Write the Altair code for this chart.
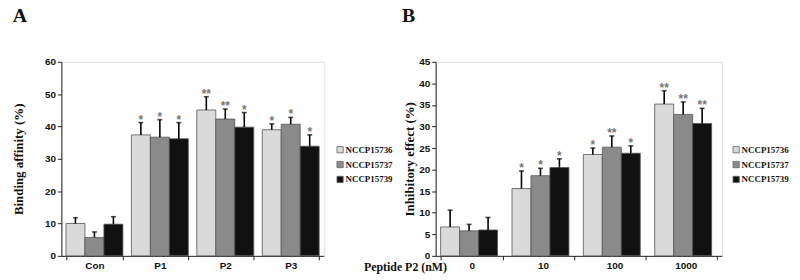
import altair as alt
import pandas as pd

series = ["NCCP15736", "NCCP15737", "NCCP15739"]
fills = ["#dadada", "#8a8a8a", "#111111"]

cats_a = ["Con", "P1", "P2", "P3"]
vals_a = {
    "NCCP15736": [10.0, 37.4, 45.1, 39.0],
    "NCCP15737": [5.7, 36.7, 42.3, 40.7],
    "NCCP15739": [9.8, 36.2, 39.8, 33.9],
}
err_a = {
    "NCCP15736": [1.8, 3.8, 4.1, 1.8],
    "NCCP15737": [1.7, 5.4, 3.1, 2.1],
    "NCCP15739": [2.3, 5.0, 4.5, 3.5],
}
stars_a = {
    "NCCP15736": ["", "*", "**", "*"],
    "NCCP15737": ["", "*", "**", "*"],
    "NCCP15739": ["", "*", "*", "*"],
}

cats_b = ["0", "10", "100", "1000"]
vals_b = {
    "NCCP15736": [6.7, 15.6, 23.5, 35.2],
    "NCCP15737": [5.8, 18.6, 25.2, 32.8],
    "NCCP15739": [6.0, 20.5, 23.8, 30.7],
}
err_b = {
    "NCCP15736": [3.9, 4.1, 1.5, 3.1],
    "NCCP15737": [1.5, 1.7, 2.6, 2.9],
    "NCCP15739": [2.9, 2.0, 1.7, 3.5],
}
stars_b = {
    "NCCP15736": ["", "*", "*", "**"],
    "NCCP15737": ["", "*", "**", "**"],
    "NCCP15739": ["", "*", "*", "**"],
}


def table(cats, vals, errs, stars):
    rows = []
    for s in series:
        for i, c in enumerate(cats):
            v = vals[s][i]
            e = errs[s][i]
            rows.append({"cat": c, "series": s, "value": v, "top": v + e, "star": stars[s][i]})
    return pd.DataFrame(rows)


SERIF = "Liberation Serif"
SANS = "Liberation Sans"


def panel(df, cats, ymax, ystep, ytitle, letter, letter_dx, w, h, xtitle, legx, ytitle_x):
    xaxis_kw = dict(
        labelAngle=0, labelFont=SANS, labelFontWeight="bold", labelFontSize=10,
        labelColor="#111", tickBand="extent", tickSize=4, tickColor="#222",
        domainColor="#222", labelPadding=1,
    )
    if xtitle:
        xaxis_kw.update(title=xtitle, titleFont=SERIF, titleFontSize=12, titleFontWeight="bold",
                        titleX=-31, titleY=11, titleAlign="center", titleBaseline="middle",
                        titleColor="#111")
    else:
        xaxis_kw.update(title=None)
    xenc = alt.X(
        "cat:N", sort=cats,
        scale=alt.Scale(paddingInner=0.13, paddingOuter=0.07),
        axis=alt.Axis(**xaxis_kw),
    )
    xo = alt.XOffset("series:N", sort=series, scale=alt.Scale(paddingInner=0, paddingOuter=0))
    yscale = alt.Scale(domain=[0, ymax], nice=False)
    yaxis = alt.Axis(
        title=ytitle, values=list(range(0, ymax + 1, ystep)), grid=False, labelOverlap=False,
        labelFont=SANS, labelFontWeight="bold", labelFontSize=10, labelColor="#111",
        tickSize=4, tickColor="#222", domainColor="#222", labelPadding=2,
        titleFont=SERIF, titleFontSize=13, titleFontWeight="bold", titleColor="#111",
        titleX=ytitle_x, titleY=h / 2, titleAngle=270, titleAlign="center", titleBaseline="bottom",
    )
    base = alt.Chart(df)
    bars = base.mark_bar(stroke="#555", strokeWidth=0.8).encode(
        x=xenc, xOffset=xo,
        y=alt.Y("value:Q", scale=yscale, axis=yaxis),
        color=alt.Color(
            "series:N", sort=series,
            scale=alt.Scale(domain=series, range=fills),
            legend=alt.Legend(
                title=None, orient="none", legendX=legx, legendY=h * 0.43,
                symbolType="square", symbolSize=40, symbolStrokeColor="#666", symbolStrokeWidth=0.8,
                labelFont=SERIF, labelFontWeight="bold", labelFontSize=9, labelColor="#111",
                rowPadding=4, labelOffset=1,
            ),
        ),
    )
    rule = base.mark_rule(color="#000", strokeWidth=1.6).encode(
        x=alt.X("cat:N", sort=cats), xOffset=alt.XOffset("series:N", sort=series),
        y=alt.Y("value:Q", axis=yaxis), y2="top:Q",
    )
    cap = base.mark_tick(color="#000", thickness=1.6, size=5).encode(
        x=alt.X("cat:N", sort=cats), xOffset=alt.XOffset("series:N", sort=series),
        y=alt.Y("top:Q", axis=yaxis),
    )
    star = base.mark_text(color="#777", font=SANS, fontSize=12, fontWeight="bold", baseline="bottom", dy=4).encode(
        x=alt.X("cat:N", sort=cats), xOffset=alt.XOffset("series:N", sort=series),
        y=alt.Y("top:Q", axis=yaxis), text="star:N",
    )
    return alt.layer(bars, rule, cap, star).properties(
        width=w, height=h,
        title=alt.TitleParams(letter, anchor="start", frame="group", dx=letter_dx, font=SERIF, fontSize=20,
                              fontWeight="bold", color="#111", offset=31),
    )


df_a = table(cats_a, vals_a, err_a, stars_a)
df_b = table(cats_b, vals_b, err_b, stars_b)

pa = panel(df_a, cats_a, 60, 10, "Binding affinity (%)", "A", -49, 265, 196, None, 277, -36)
pb = panel(df_b, cats_b, 45, 5, "Inhibitory effect (%)", "B", -34, 289, 196, "Peptide P2 (nM)", 299, -19)

chart = alt.hconcat(pa, pb, spacing=113, bounds="flush").resolve_legend(color="independent").resolve_scale(
    color="independent"
).configure_view(stroke=None).configure(background="white").properties(
    padding={"left": 12, "top": 4, "right": 10, "bottom": 8}
)

chart.save("out.html", embed_options={"renderer": "svg", "actions": False})
